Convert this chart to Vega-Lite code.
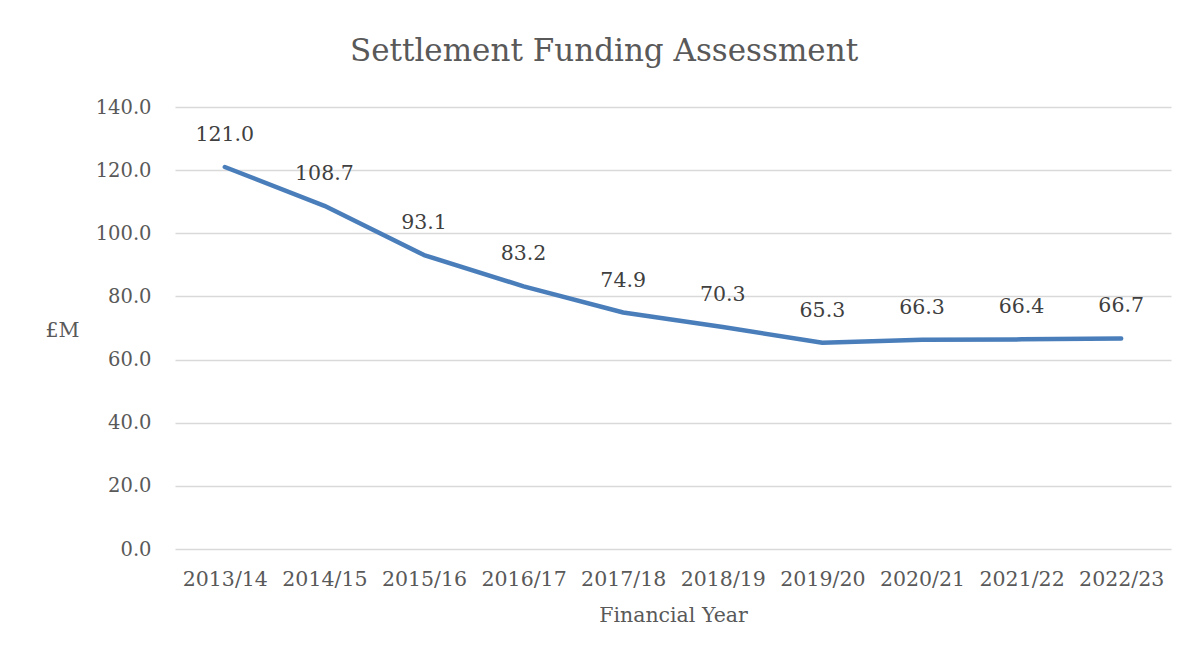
{
  "$schema": "https://vega.github.io/schema/vega-lite/v6.json",
  "width": 996,
  "height": 442,
  "autosize": {"type": "none"},
  "padding": {"left": 175, "top": 107, "right": 18, "bottom": 107},
  "background": "white",
  "config": {
    "view": {"stroke": null},
    "font": "DejaVu Serif"
  },
  "title": {
    "text": "Settlement Funding Assessment",
    "font": "DejaVu Serif",
    "fontSize": 31,
    "fontWeight": "normal",
    "color": "#595959",
    "anchor": "middle",
    "dx": -69,
    "offset": 29
  },
  "data": {
    "values": [
      {"year": "2013/14", "value": 121.0},
      {"year": "2014/15", "value": 108.7},
      {"year": "2015/16", "value": 93.1},
      {"year": "2016/17", "value": 83.2},
      {"year": "2017/18", "value": 74.9},
      {"year": "2018/19", "value": 70.3},
      {"year": "2019/20", "value": 65.3},
      {"year": "2020/21", "value": 66.3},
      {"year": "2021/22", "value": 66.4},
      {"year": "2022/23", "value": 66.7}
    ]
  },
  "encoding": {
    "x": {
      "field": "year",
      "type": "ordinal",
      "sort": null,
      "scale": {"type": "point", "padding": 0.5},
      "axis": {
        "title": "Financial Year",
        "labelAngle": 0,
        "labelFontSize": 20.5,
        "labelColor": "#595959",
        "labelPadding": 20,
        "labelFont": "DejaVu Serif",
        "ticks": false,
        "domain": false,
        "grid": false,
        "titleFontSize": 20.5,
        "titleFontWeight": "normal",
        "titleColor": "#595959",
        "titleFont": "DejaVu Serif",
        "titlePadding": 16
      }
    },
    "y": {
      "field": "value",
      "type": "quantitative",
      "scale": {"domain": [0, 140]},
      "axis": {
        "values": [0, 20, 40, 60, 80, 100, 120, 140],
        "format": ".1f",
        "title": "£M",
        "titleAngle": 0,
        "titleAlign": "left",
        "titleBaseline": "middle",
        "titleX": -130,
        "titleY": 223,
        "titleFontSize": 20.5,
        "titleFontWeight": "normal",
        "titleColor": "#595959",
        "titleFont": "DejaVu Serif",
        "labelFontSize": 19.5,
        "labelColor": "#595959",
        "labelFont": "DejaVu Serif",
        "labelPadding": 24,
        "ticks": false,
        "domain": false,
        "gridColor": "#d9d9d9",
        "gridWidth": 1.5
      }
    }
  },
  "layer": [
    {
      "mark": {"type": "line", "color": "#4a7ebb", "strokeWidth": 4.5, "strokeCap": "round", "strokeJoin": "round"}
    },
    {
      "mark": {"type": "text", "dy": -32, "fontSize": 20.5, "color": "#404040", "font": "DejaVu Serif"},
      "encoding": {
        "text": {"field": "value", "type": "quantitative", "format": ".1f"}
      }
    }
  ]
}
